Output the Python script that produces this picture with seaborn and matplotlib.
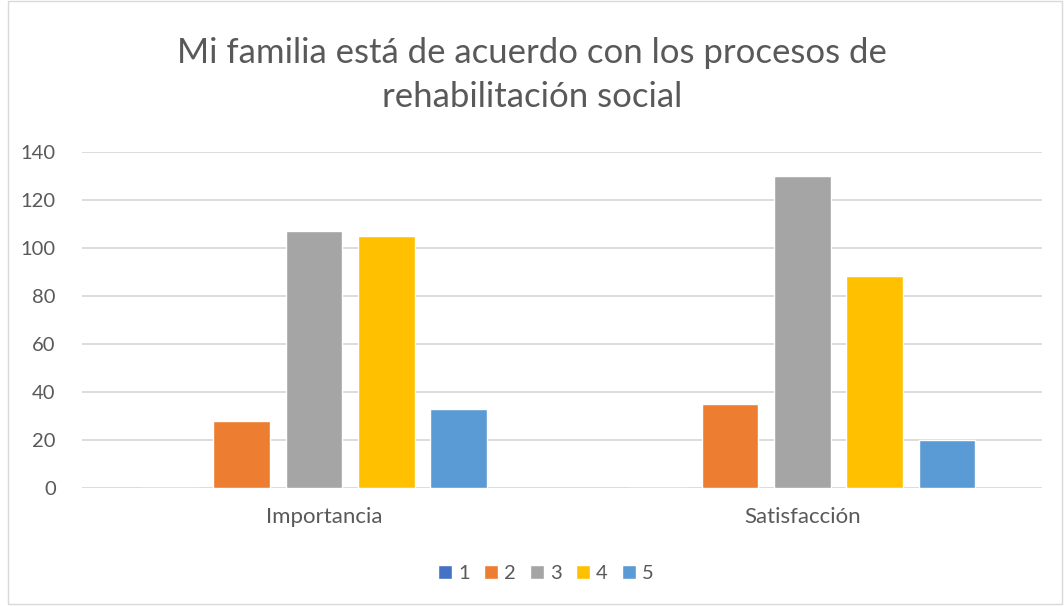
import matplotlib
matplotlib.use("Agg")
import matplotlib.pyplot as plt
import matplotlib.transforms as mtransforms
import seaborn as sns
import pandas as pd
from matplotlib.patches import Rectangle

categories = ["Importancia", "Satisfacción"]
levels = ["1", "2", "3", "4", "5"]
importancia = [0, 28, 107, 105, 33]
satisfaccion = [0, 35, 130, 88, 20]
colors = ["#4472C4", "#ED7D31", "#A5A5A5", "#FFC000", "#5B9BD5"]
title = "Mi familia está de acuerdo con los procesos de\nrehabilitación social"

rows = []
for cat, vals in zip(categories, [importancia, satisfaccion]):
    for lev, v in zip(levels, vals):
        rows.append({"cat": cat, "nivel": lev, "valor": v})
df = pd.DataFrame(rows)

sns.set_theme(style="white")
plt.rcParams['font.family'] = ['Lato', 'DejaVu Sans']

fig = plt.figure(figsize=(10.64, 6.06), dpi=100)
ax = fig.add_axes([0.0771, 0.1952, 0.9019, 0.5545])

sns.barplot(data=df, x="cat", y="valor", hue="nivel", order=categories,
            hue_order=levels, palette=colors, width=0.74, gap=0.215,
            saturation=1, ax=ax, legend=True)

ax.set_ylim(0, 140)
ax.set_yticks(range(0, 141, 20))
ax.set_xlim(-0.475, 1.49)
ax.yaxis.grid(True, color="#D9D9D9", linewidth=1.3)
ax.set_axisbelow(True)
for s in ax.spines.values():
    s.set_visible(False)
ax.set_xlabel("")
ax.set_ylabel("")
ax.tick_params(axis="both", length=0, colors="#595959")
ax.tick_params(axis="y", pad=19, labelsize=14.5)
ax.tick_params(axis="x", pad=14, labelsize=16)

# first category label sits slightly right of its bar group in the reference
lbl = ax.get_xticklabels()[0]
lbl.set_transform(lbl.get_transform() +
                  mtransforms.ScaledTranslation(0.10, 0, fig.dpi_scale_trans))

fig.text(0.5, 1 - 75 / 606, title, ha="center", va="center", fontsize=25,
         color="#595959", linespacing=1.45)

handles, labels = ax.get_legend_handles_labels()
ax.get_legend().remove()
fig.legend(handles, labels, loc="center", bbox_to_anchor=(0.513, 0.053), ncol=5,
           frameon=False, fontsize=14.5, handlelength=0.7, handleheight=0.7,
           handletextpad=0.3, columnspacing=0.7, labelcolor="#595959")

fig.patches.append(Rectangle((8 / 1064, 0.003), 1 - 8 / 1064 - 0.002, 0.995,
                             transform=fig.transFigure, fill=False,
                             edgecolor="#D9D9D9", linewidth=1))

fig.savefig("out.png", dpi=100)
